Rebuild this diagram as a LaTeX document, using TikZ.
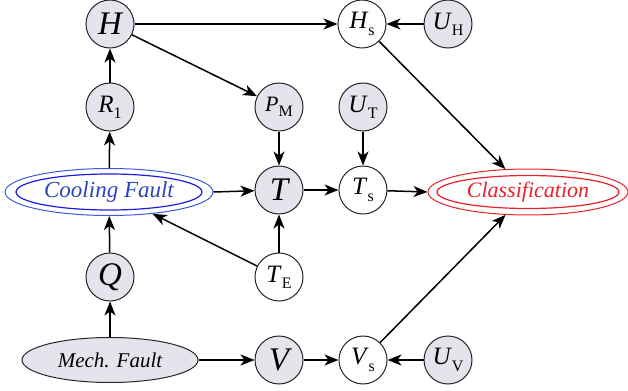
\documentclass[tikz,border=0pt]{standalone}
\usepackage{fontspec}
\setmainfont{Liberation Serif}
\usetikzlibrary{arrows.meta,shapes.geometric}
\definecolor{nodegray}{HTML}{E4E4EC}
\definecolor{cfout}{HTML}{3A5BD8}
\definecolor{cfin}{HTML}{1C1CE0}
\definecolor{cftext}{HTML}{2A46B8}
\definecolor{clred}{HTML}{E8202A}
\newcommand{\nsym}[2]{\textit{#1}\raisebox{-0.55ex}{\fontsize{8}{8}\selectfont #2}}
\begin{document}
\begin{tikzpicture}[x=0.5pt,y=-0.5pt,
  var/.style={circle, draw=black!85, line width=0.5pt, minimum size=24pt, inner sep=0pt, font=\fontsize{12.5}{12.5}\selectfont},
  hid/.style={var, fill=nodegray},
  bigvar/.style={hid, font=\fontsize{16.5}{16.5}\selectfont\itshape},
  arr/.style={-{Stealth[length=7pt,width=5.5pt,inset=2pt]}, line width=0.75pt, black}
]
\useasboundingbox (0,0) rectangle (628,391);
% nodes
\node[bigvar] (H) at (110,24) {H};
\node[var] (Hs) at (362,24) {\nsym{H}{s}};
\node[hid] (UH) at (448,24) {\nsym{U}{H}};
\node[hid] (R1) at (110,107) {\nsym{R}{1}};
\node[hid, font=\fontsize{11}{11}\selectfont] (PM) at (279,107) {\nsym{P}{M}};
\node[hid] (UT) at (363,107) {\nsym{U}{T}};
\node[ellipse, draw=cfout, line width=0.5pt, minimum width=104pt, minimum height=23.5pt, inner sep=0pt,
      font=\fontsize{11.5}{11.5}\selectfont\itshape, text=cftext] (CF) at (109,192) {Cooling Fault};
\draw[cfin, line width=0.6pt] (CF.center) ellipse [x radius=46.5pt, y radius=9pt];
\node[bigvar] (T) at (279,190) {T};
\node[var] (Ts) at (363,190) {\nsym{T}{s}};
\node[ellipse, draw=clred, line width=0.5pt, minimum width=100pt, minimum height=23pt, inner sep=0pt,
      font=\fontsize{11}{11}\selectfont\itshape, text=clred] (CL) at (528,192) {Classification};
\draw[clred, line width=0.6pt] (CL.center) ellipse [x radius=45.5pt, y radius=8.25pt];
\node[var] (TE) at (279,277) {\nsym{T}{E}};
\node[bigvar] (Q) at (110,277) {Q};
\node[ellipse, draw=black!85, fill=nodegray, line width=0.5pt, minimum width=88pt, minimum height=22.5pt, inner sep=0pt,
      font=\fontsize{10.5}{10.5}\selectfont\itshape] (MF) at (110,360) {Mech. Fault};
\node[bigvar] (V) at (279,360) {V};
\node[var] (Vs) at (363,360) {\nsym{V}{s}};
\node[hid] (UV) at (448,360) {\nsym{U}{V}};
% edges
\draw[arr] (H) -- (Hs);
\draw[arr] (UH) -- (Hs);
\draw[arr] (H) -- (PM);
\draw[arr] (R1) -- (H);
\draw[arr] (CF) -- (R1);
\draw[arr] (PM) -- (T);
\draw[arr] (CF.east) -- (T);
\draw[arr] (T) -- (Ts);
\draw[arr] (UT) -- (Ts);
\draw[arr] (Ts) -- (CL.west);
\draw[arr] (Hs) -- (CL);
\draw[arr] (TE) -- (T);
\draw[arr] (TE) -- (CF);
\draw[arr] (Q) -- (CF);
\draw[arr] (MF) -- (Q);
\draw[arr] (MF.east) -- (V);
\draw[arr] (V) -- (Vs);
\draw[arr] (UV) -- (Vs);
\draw[arr] (Vs) -- (CL);
\end{tikzpicture}
\end{document}
